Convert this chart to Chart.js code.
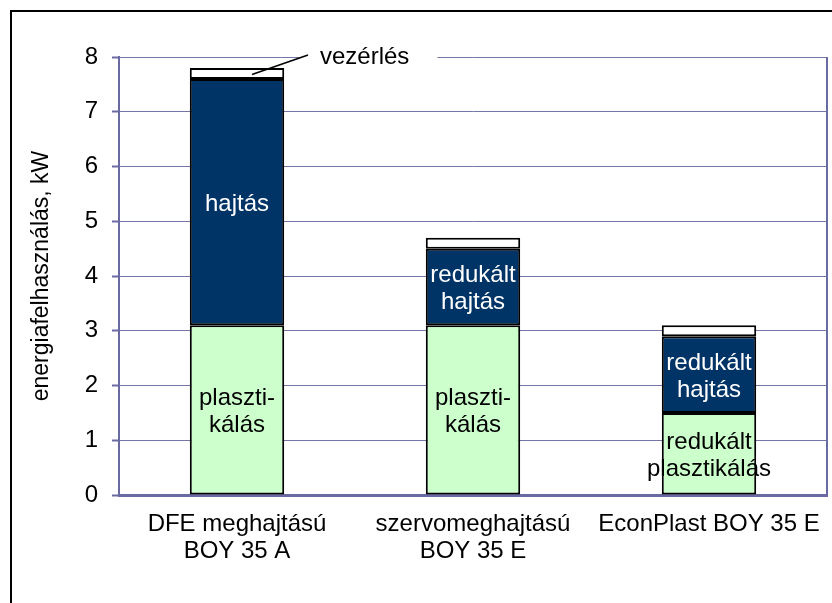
<!DOCTYPE html>
<html>
<head>
<meta charset="utf-8">
<script src="https://cdn.jsdelivr.net/npm/chart.js@4"></script>
<style>
  body { margin: 0; background: #fff; }
  #wrap { width: 832px; height: 603px; }
</style>
</head>
<body>
<div id="wrap"><canvas id="chart" width="832" height="603"></canvas></div>
<script>
"use strict";
// data
const categories = [["DFE meghajtású", "BOY 35 A"], ["szervomeghajtású", "BOY 35 E"], "EconPlast BOY 35 E"];
const plastValues = [3.1, 3.1, 1.5];
const driveValues = [4.5, 1.4, 1.4];
const controlValues = [0.2, 0.2, 0.2];
const plastLabels = [["plaszti-", "kálás"], ["plaszti-", "kálás"], ["redukált", "plasztikálás"]];
const driveLabels = [["hajtás"], ["redukált", "hajtás"], ["redukált", "hajtás"]];
const controlLabel = "vezérlés";
const yTicks = [0, 1, 2, 3, 4, 5, 6, 7, 8];
const yTitle = "energiafelhasználás, kW";

const FONT = "'Liberation Sans', Arial, sans-serif";
const GRID = "#7474a8";
const AXIS = "#6a6aa2";

// writes the labels inside the bar segments
const segmentLabels = {
    id: "segmentLabels",
    afterDatasetsDraw(chart) {
        const ctx = chart.ctx;
        ctx.save();
        ctx.font = "24px " + FONT;
        ctx.textAlign = "center";
        ctx.textBaseline = "middle";
        chart.data.datasets.forEach((ds, i) => {
            if (!ds.segLabels) return;
            chart.getDatasetMeta(i).data.forEach((el, j) => {
                const lines = ds.segLabels[j];
                const mid = (el.y + el.base) / 2 + 2;
                const lh = 27;
                ctx.fillStyle = ds.textColor;
                lines.forEach((line, k) => {
                    ctx.fillText(line, el.x, mid + (k - (lines.length - 1) / 2) * lh);
                });
            });
        });
        ctx.restore();
    }
};

// frame, right edge of the plot and the "vezérlés" callout
const frame = {
    id: "frame",
    beforeDraw(chart) {
        const ctx = chart.ctx;
        ctx.save();
        ctx.strokeStyle = "#000";
        ctx.lineWidth = 2;
        ctx.strokeRect(11, 11, 900, 700);
        ctx.restore();
    },
    afterDraw(chart) {
        const ctx = chart.ctx;
        const area = chart.chartArea;
        ctx.save();
        ctx.strokeStyle = AXIS;
        ctx.lineWidth = 2;
        ctx.beginPath();
        ctx.moveTo(area.right, area.top);
        ctx.lineTo(area.right, area.bottom + 1);
        ctx.stroke();

        const idx = chart.data.datasets.findIndex(ds => ds.label === controlLabel);
        const el = chart.getDatasetMeta(idx).data[0];
        const ax = el.x + 15;
        const ay = (el.y + el.base) / 2 + 1;
        const tx = el.x + 83;
        const ty = area.top;
        ctx.font = "24px " + FONT;
        const w = ctx.measureText(controlLabel).width;
        ctx.fillStyle = "#fff";
        ctx.fillRect(tx - 20, ty - 14, w + 48, 28);
        ctx.strokeStyle = "#000";
        ctx.lineWidth = 1.5;
        ctx.beginPath();
        ctx.moveTo(ax, ay);
        ctx.lineTo(tx - 12, ty - 2);
        ctx.stroke();
        ctx.fillStyle = "#000";
        ctx.textAlign = "left";
        ctx.textBaseline = "middle";
        ctx.fillText(controlLabel, tx, ty);
        ctx.restore();
    }
};

const chart = new Chart(document.getElementById("chart"), {
    type: "bar",
    data: {
        labels: categories,
        datasets: [
            { label: "plasztikálás", data: plastValues, backgroundColor: "#ccffcc", segLabels: plastLabels, textColor: "#000" },
            { label: "hajtás", data: driveValues, backgroundColor: "#003366", segLabels: driveLabels, textColor: "#fff" },
            { label: controlLabel, data: controlValues, backgroundColor: "#ffffff" }
        ].map(ds => Object.assign(ds, {
            borderColor: "#000",
            borderWidth: 2,
            borderSkipped: false,
            barPercentage: 0.4,
            categoryPercentage: 1
        }))
    },
    options: {
        responsive: false,
        animation: false,
        layout: { padding: { left: 0, right: 5, top: 57, bottom: 0 } },
        plugins: {
            legend: { display: false },
            tooltip: { enabled: false }
        },
        scales: {
            x: {
                stacked: true,
                grid: { display: false },
                border: { display: true, color: AXIS, width: 3 },
                ticks: {
                    color: "#000",
                    padding: 8,
                    maxRotation: 0,
                    font: { family: FONT, size: 24, lineHeight: 1.125 }
                },
                afterFit(scale) { scale.height = 108; }
            },
            y: {
                stacked: true,
                min: 0,
                max: 8,
                afterBuildTicks(scale) { scale.ticks = yTicks.map(v => ({ value: v })); },
                grid: { color: GRID, lineWidth: 1, tickLength: 7, tickColor: AXIS, tickWidth: 2 },
                border: { display: true, color: AXIS, width: 2 },
                ticks: {
                    color: "#000",
                    padding: 14,
                    font: { family: FONT, size: 24 }
                },
                title: {
                    display: true,
                    text: yTitle,
                    color: "#000",
                    padding: { top: 28, bottom: 0 },
                    font: { family: FONT, size: 23, lineHeight: 1.2 }
                },
                afterFit(scale) { scale.width = 119; }
            }
        }
    },
    plugins: [segmentLabels, frame]
});
</script>
</body>
</html>
